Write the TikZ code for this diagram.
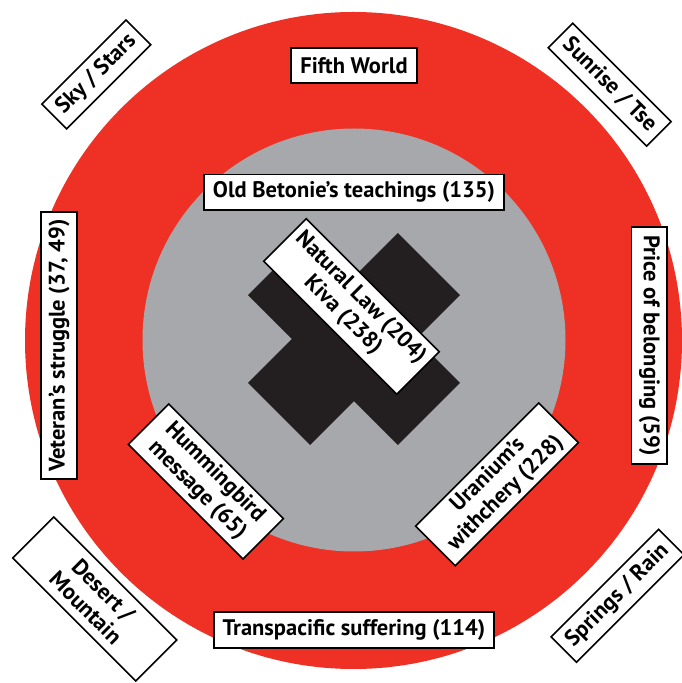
\documentclass[tikz,border=0pt]{standalone}
\usepackage{fontspec}
\setmainfont{PT Sans}
\usepackage{tikz}
\usetikzlibrary{positioning}
\usepackage{xcolor}

\definecolor{ringred}{HTML}{EE3124}
\definecolor{innergray}{HTML}{A6A8AB}
\definecolor{crossblack}{HTML}{231F20}

\tikzset{
  tag/.style={draw=black, line width=1.6pt, fill=white, inner sep=0pt,
    align=center, font=\bfseries\fontsize{22.5}{25}\selectfont},
}

\begin{document}
\begin{tikzpicture}[x=1pt, y=1pt]
    \useasboundingbox (0,0) rectangle (681,683);

    % 外圈与内圈
    \fill[ringred] (353.5,342.5) circle (328.5);
    \fill[innergray] (354,343) circle (211.5);

    % 中间的十字
    \begin{scope}[rotate around={45:(354,344)}]
        \fill[crossblack] (248,300) rectangle (460,388);
    \end{scope}
    \begin{scope}[rotate around={-45:(354,344)}]
        \fill[crossblack] (248,300) rectangle (460,388);
    \end{scope}

    % 圆上的标签
    \node[tag, minimum width=126, minimum height=35] (fifth) at (354,617.6) {Fifth World};
    \node[tag, minimum width=300, minimum height=35.5] (betonie) at (354,490.6) {Old Betonie’s teachings (135)};
    \node[tag, minimum width=280, minimum height=35.5] (transpacific) at (354,53) {Transpacific suffering (114)};
    \node[tag, minimum width=267, minimum height=36, rotate=90] (veteran) at (59.1,337.4) {Veteran’s struggle (37, 49)};
    \node[tag, minimum width=237, minimum height=35.5, rotate=-90] (price) at (649.4,337.7) {Price of belonging (59)};
    \node[tag, minimum width=188, minimum height=60, rotate=-45] (natural) at (351.5,376.5) {Natural Law (204)\\Kiva (238)};
    \node[tag, minimum width=162, minimum height=57, rotate=-45] (humming) at (205.9,201.5) {Hummingbird\\message (65)};
    \node[tag, minimum width=174, minimum height=56, rotate=45] (uranium) at (497,198.6) {Uranium’s\\withchery (228)};

    % 四角的方位
    \node[tag, minimum width=119, minimum height=35, rotate=45] (sky) at (96.3,608.5) {Sky / Stars};
    \node[tag, minimum width=139, minimum height=34.5, rotate=-45] (sunrise) at (609.7,598.3) {Sunrise / Tse};
    \node[tag, minimum width=174, minimum height=58, rotate=-45] (desert) at (94.7,84) {Desert /\\Mountain};
    \node[tag, minimum width=152, minimum height=36, rotate=45] (springs) at (617.6,87.2) {Springs / Rain};
\end{tikzpicture}
\end{document}
